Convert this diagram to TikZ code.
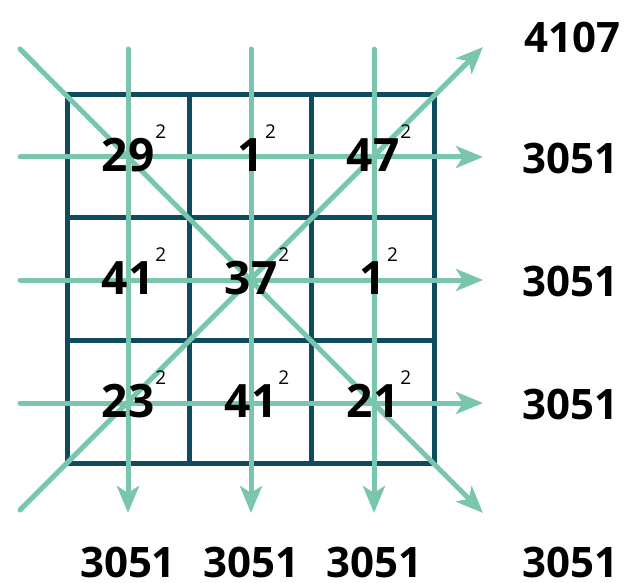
\documentclass[tikz,border=0pt]{standalone}
\usepackage{fontspec}
\setmainfont{Open Sans}
\usetikzlibrary{arrows.meta}
\definecolor{gridc}{HTML}{0E4B5E}
\definecolor{arrc}{HTML}{7AC5AE}
\tikzset{
  gridline/.style={draw=gridc, line width=5pt},
  arrline/.style={draw=arrc, line width=5pt, line cap=round,
    -{Stealth[length=27pt,width=22pt,inset=7pt]}},
  sumlabel/.style={font=\fontsize{42}{42}\selectfont\bfseries, inner sep=0pt},
  cellnum/.style={font=\fontsize{46}{46}\selectfont\bfseries, inner sep=0pt},
}
\newcommand{\mysq}{\rlap{\smash{\hspace{1pt}\raisebox{33pt}{\fontsize{19}{19}\selectfont\mdseries 2}}}}
\begin{document}
\begin{tikzpicture}[x=1pt,y=-1pt]
\useasboundingbox (0,0) rectangle (627,583);
% grid
\draw[gridline] (67,95) rectangle (434,463);
\draw[gridline] (189.3,95) -- (189.3,463);
\draw[gridline] (311.7,95) -- (311.7,463);
\draw[gridline] (67,217.7) -- (434,217.7);
\draw[gridline] (67,340.3) -- (434,340.3);
% arrow endpoints
\coordinate (v1s) at (128,49);  \coordinate (v1e) at (128,513);
\coordinate (v2s) at (251,49);  \coordinate (v2e) at (251,513);
\coordinate (v3s) at (374,49);  \coordinate (v3e) at (374,513);
\coordinate (h1s) at (20,157);  \coordinate (h1e) at (483,157);
\coordinate (h2s) at (20,280);  \coordinate (h2e) at (483,280);
\coordinate (h3s) at (20,403);  \coordinate (h3e) at (483,403);
\coordinate (d1s) at (20,49);   \coordinate (d1e) at (483,513);
\coordinate (d2s) at (20,510);  \coordinate (d2e) at (483,47);
% arrows
\draw[arrline] (v1s) -- (v1e);
\draw[arrline] (v2s) -- (v2e);
\draw[arrline] (v3s) -- (v3e);
\draw[arrline] (h1s) -- (h1e);
\draw[arrline] (h2s) -- (h2e);
\draw[arrline] (h3s) -- (h3e);
\draw[arrline] (d1s) -- (d1e);
\draw[arrline] (d2s) -- (d2e);
% cell numbers
\node[cellnum] (c11) at (128,155) {29\mysq};
\node[cellnum] (c12) at (251,155) {1\mysq};
\node[cellnum] (c13) at (373,155) {47\mysq};
\node[cellnum] (c21) at (128,278) {41\mysq};
\node[cellnum] (c22) at (251,278) {37\mysq};
\node[cellnum] (c23) at (373,278) {1\mysq};
\node[cellnum] (c31) at (128,401) {23\mysq};
\node[cellnum] (c32) at (251,401) {41\mysq};
\node[cellnum] (c33) at (373,401) {21\mysq};
% sums
\node[sumlabel] (sd2) at (572,37) {4107};
\node[sumlabel] (sh1) at (570,158) {3051};
\node[sumlabel] (sh2) at (570,281) {3051};
\node[sumlabel] (sh3) at (570,404) {3051};
\node[sumlabel] (sd1) at (570,562) {3051};
\node[sumlabel] (sv1) at (128,562) {3051};
\node[sumlabel] (sv2) at (251,562) {3051};
\node[sumlabel] (sv3) at (374,562) {3051};
\end{tikzpicture}
\end{document}
